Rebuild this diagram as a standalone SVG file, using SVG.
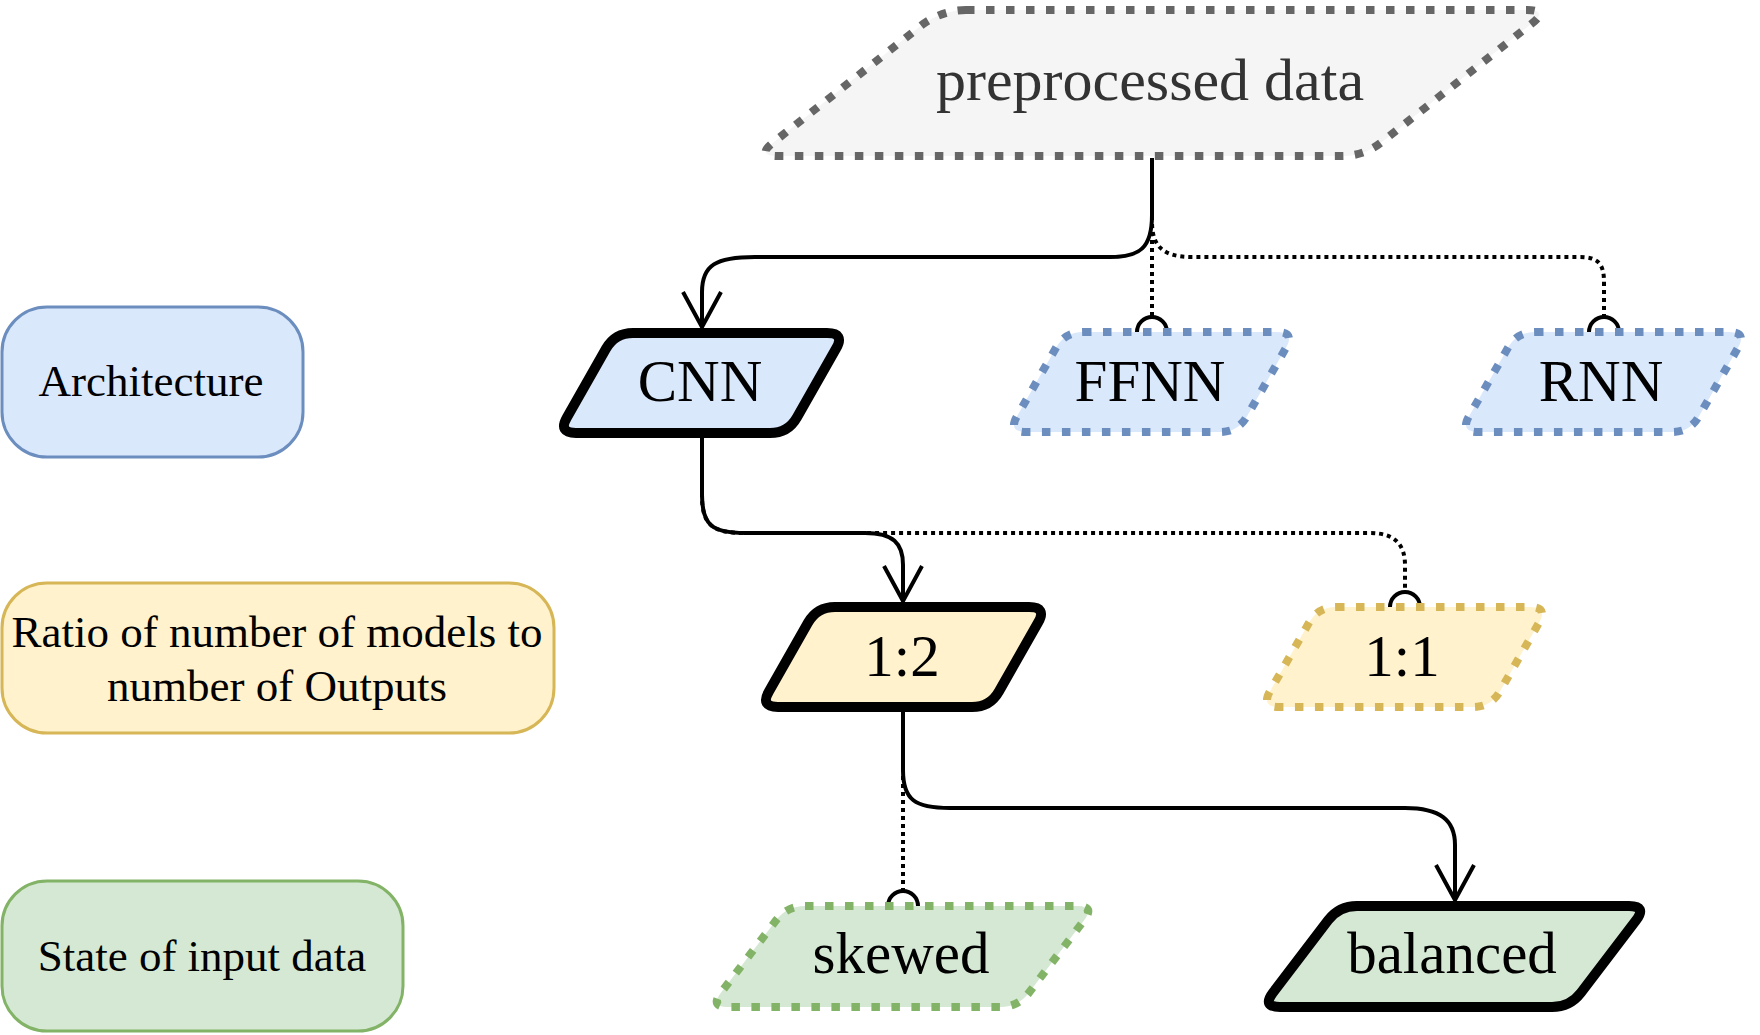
<svg xmlns="http://www.w3.org/2000/svg" width="1760" height="1035" viewBox="0 0 1760 1035">
<style>
text{font-family:"Liberation Serif","Times New Roman",serif;text-anchor:middle;fill:#000}
.node{font-size:59px}
.legend{font-size:45px}
.solidB{stroke:#000;stroke-width:10;stroke-linejoin:round}
.dotBlue{stroke:#6c8ebf;stroke-width:8;stroke-dasharray:8.5 11.5}
.dotYel{stroke:#d6b656;stroke-width:8;stroke-dasharray:8.5 11.5}
.dotGrn{stroke:#82b366;stroke-width:8;stroke-dasharray:8.5 11.5}
.dotGry{stroke:#666;stroke-width:8;stroke-dasharray:8.5 11.5}
.blue{fill:#dae8fc}.yel{fill:#fff2cc}.grn{fill:#d5e8d4}.gry{fill:#f5f5f5}
.edge{fill:none;stroke:#000;stroke-width:4}
.dotted{stroke-dasharray:4 4}
</style>
<defs>
<path id="p287" d="M 75 0 L 269 0 Q 287 0 278.1 15.6 L 238.9 84.4 Q 230 100 212 100 L 18 100 Q 0 100 8.9 84.4 L 48.1 15.6 Q 57 0 75 0 Z"/>
<path id="p385" d="M 95 0 L 367 0 Q 385 0 374.1 14.3 L 318.9 86.7 Q 308 101 290 101 L 18 101 Q 0 101 10.9 86.7 L 66.1 14.3 Q 77 0 95 0 Z"/>
<marker id="open" markerUnits="userSpaceOnUse" markerWidth="44" markerHeight="48" refX="38" refY="22" orient="auto" viewBox="0 0 44 48">
<path d="M 3 3 L 38 22 L 3 41" fill="none" stroke="#000" stroke-width="4"/>
</marker>
</defs>

<g id="legend-architecture">
<rect x="2" y="307" width="301" height="150" rx="45" ry="45" fill="#dae8fc" stroke="#6c8ebf" stroke-width="3"/>
<text class="legend" x="151" y="396">Architecture</text>
</g>
<g id="legend-ratio">
<rect x="2" y="583" width="552" height="150" rx="45" ry="45" fill="#fff2cc" stroke="#d6b656" stroke-width="3"/>
<text class="legend" x="277" y="647">Ratio of number of models to</text>
<text class="legend" x="277" y="701">number of Outputs</text>
</g>
<g id="legend-state">
<rect x="2" y="881" width="401" height="150" rx="45" ry="45" fill="#d5e8d4" stroke="#82b366" stroke-width="3"/>
<text class="legend" x="202" y="971">State of input data</text>
</g>

<g id="connectors">
<path class="edge dotted" d="M 1152 160 L 1152 316"/>
<path class="edge" d="M 1137 332 A 15 15 0 0 1 1167 332"/>
<path class="edge dotted" d="M 1152 160 L 1152 222 C 1152 248 1165 257 1192 257 L 1580 257 C 1598 257 1604 264 1604 282 L 1604 316"/>
<path class="edge" d="M 1589 332 A 15 15 0 0 1 1619 332"/>
<path class="edge" marker-end="url(#open)" d="M 1152 158 L 1152 215 C 1152 248 1140 257 1110 257 L 755 257 C 716 257 702 265 702 292 L 702 327"/>

<path class="edge dotted" d="M 702 437 L 702 495 C 702 525 712 533 745 533 L 1370 533 C 1395 533 1405 545 1405 565 L 1405 591"/>
<path class="edge" d="M 1390 607 A 15 15 0 0 1 1420 607"/>
<path class="edge" marker-end="url(#open)" d="M 702 437 L 702 495 C 702 525 712 533 745 533 L 865 533 C 893 533 903 543 903 565 L 903 601"/>

<path class="edge dotted" d="M 903 712 L 903 890"/>
<path class="edge" d="M 888 906 A 15 15 0 0 1 918 906"/>
<path class="edge" marker-end="url(#open)" d="M 903 712 L 903 770 C 903 800 915 808 950 808 L 1405 808 C 1440 808 1455 820 1455 845 L 1455 900"/>
</g>

<g id="node-preprocessed">
<path transform="translate(756,10)" class="gry dotGry" d="M 210 0 L 771 0 Q 793 0 775.7 13.6 L 625.3 132.4 Q 608 146 586 146 L 22 146 Q 0 146 17.3 132.4 L 167.7 13.6 Q 188 0 210 0 Z"/>
<text x="1150" y="100" style="font-size:60px;fill:#333">preprocessed data</text>
</g>
<g id="node-cnn">
<use href="#p287" transform="translate(558,333)" class="blue solidB"/>
<text class="node" x="700" y="401">CNN</text>
</g>
<g id="node-ffnn">
<use href="#p287" transform="translate(1008,332)" class="blue dotBlue"/>
<text class="node" x="1150" y="401">FFNN</text>
</g>
<g id="node-rnn">
<use href="#p287" transform="translate(1460,332)" class="blue dotBlue"/>
<text class="node" x="1601" y="401">RNN</text>
</g>
<g id="node-12">
<use href="#p287" transform="translate(760,607)" class="yel solidB"/>
<text class="node" x="902" y="676">1:2</text>
</g>
<g id="node-11">
<use href="#p287" transform="translate(1261,607)" class="yel dotYel"/>
<text class="node" x="1402" y="676">1:1</text>
</g>
<g id="node-skewed">
<use href="#p385" transform="translate(710,906)" class="grn dotGrn"/>
<text class="node" x="901" y="973">skewed</text>
</g>
<g id="node-balanced">
<use href="#p385" transform="translate(1262,906)" class="grn solidB"/>
<text class="node" x="1452" y="973">balanced</text>
</g>
</svg>
